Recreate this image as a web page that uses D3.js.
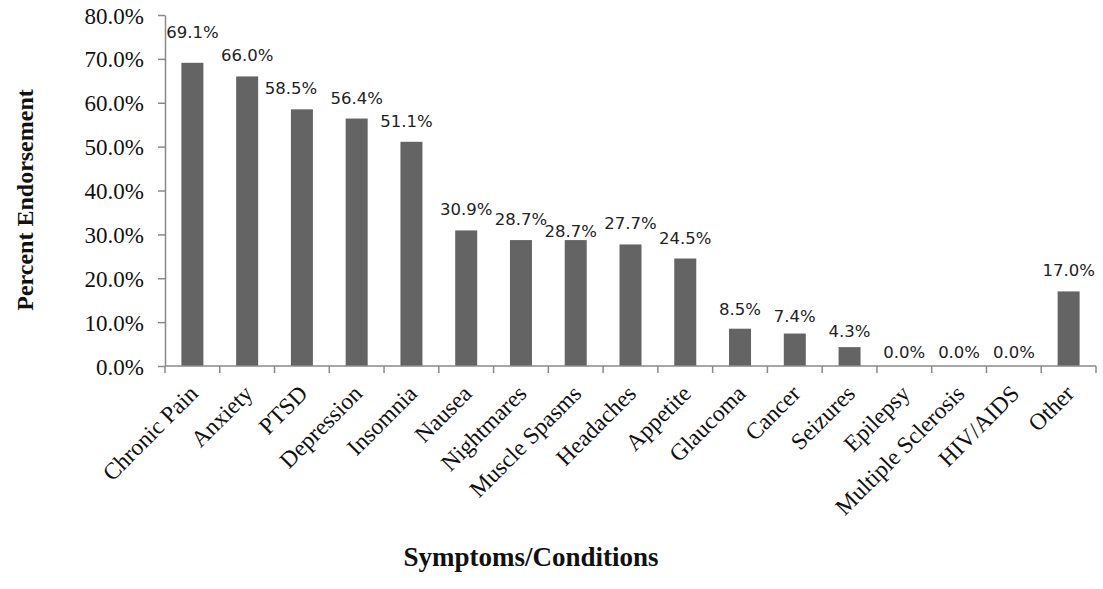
<!DOCTYPE html>
<html><head><meta charset="utf-8">
<script src="https://cdn.jsdelivr.net/npm/d3@7"></script>
<style>
html,body{margin:0;padding:0;background:#fff;}
svg{display:block;}
</style></head>
<body>
<svg id="chart" width="1103" height="589"></svg>
<script>
const categories = ["Chronic Pain","Anxiety","PTSD","Depression","Insomnia","Nausea","Nightmares","Muscle Spasms","Headaches","Appetite","Glaucoma","Cancer","Seizures","Epilepsy","Multiple Sclerosis","HIV/AIDS","Other"];
const values = [69.1,66.0,58.5,56.4,51.1,30.9,28.7,28.7,27.7,24.5,8.5,7.4,4.3,0.0,0.0,0.0,17.0];
const yTicks = [0,10,20,30,40,50,60,70,80];
const yTitle = "Percent Endorsement";
const xTitle = "Symptoms/Conditions";
// label nudges (dx, dy) in px, layout only
const labelNudgeX = [0,0,-11,0,-5,0,0,-5,0,0,0,0,0,0,0,0,0];
const labelNudgeY = [-10,0,0,0,0,0,0,12,0,0,1,3,5,7,7,7,0];

const svg = d3.select("#chart");
const mLeft = 165, mRight = 1096, mTop = 15, mBottom = 366;
const xb = d3.scaleBand().domain(categories).range([mLeft, mRight]);
const y = d3.scaleLinear().domain([0, 80]).range([mBottom, mTop]);
const axisColor = "#8a8a8a";

// bars
svg.append("g").selectAll("rect").data(values).join("rect")
  .attr("x", (d,i) => xb(categories[i]) + xb.bandwidth()/2 - 11)
  .attr("width", 22)
  .attr("y", d => y(d))
  .attr("height", d => y(0) - y(d))
  .attr("fill", "#646464");

// y axis
const yAxis = svg.append("g").attr("transform", `translate(${mLeft},0)`)
  .call(d3.axisLeft(y).tickValues(yTicks).tickSize(7).tickSizeOuter(0).tickFormat(d => d.toFixed(1) + "%"));
yAxis.select(".domain").attr("stroke", axisColor).attr("stroke-width", 1.5);
yAxis.selectAll(".tick line").attr("stroke", axisColor).attr("stroke-width", 1.5);
yAxis.selectAll(".tick text").attr("x", -21).attr("dy", "0.35em")
  .attr("font-family", "'Liberation Serif', serif").attr("font-size", 23).attr("fill", "#111");

// x axis
const xg = svg.append("g").attr("transform", `translate(0,${mBottom})`);
xg.append("line").attr("x1", mLeft).attr("x2", mRight).attr("y1", 0).attr("y2", 0)
  .attr("stroke", axisColor).attr("stroke-width", 1.5);
const bounds = categories.map(c => xb(c)).concat([mRight]);
xg.selectAll("line.tk").data(bounds).join("line").attr("class","tk")
  .attr("x1", d => d).attr("x2", d => d).attr("y1", 0).attr("y2", 7)
  .attr("stroke", axisColor).attr("stroke-width", 1.5);
xg.selectAll("text").data(categories).join("text")
  .attr("transform", d => `translate(${xb(d) + xb.bandwidth()/2 + 7},${29}) rotate(-45)`)
  .attr("text-anchor", "end")
  .attr("font-family", "'Liberation Serif', serif").attr("font-size", 23.5).attr("fill", "#111")
  .text(d => d);

// value labels
svg.append("g").selectAll("text").data(values).join("text")
  .attr("x", (d,i) => xb(categories[i]) + xb.bandwidth()/2 + labelNudgeX[i])
  .attr("y", (d,i) => y(d) - 15 + labelNudgeY[i])
  .attr("text-anchor", "middle")
  .attr("font-family", "'DejaVu Sans', sans-serif").attr("font-size", 16.5).attr("fill", "#222")
  .text(d => d.toFixed(1) + "%");

// titles
svg.append("text").attr("transform", `translate(33,${200}) rotate(-90)`)
  .attr("text-anchor", "middle").attr("font-family", "'Liberation Serif', serif")
  .attr("font-weight", "bold").attr("font-size", 24).attr("fill", "#111").text(yTitle);
svg.append("text").attr("x", 531).attr("y", 566)
  .attr("text-anchor", "middle").attr("font-family", "'Liberation Serif', serif")
  .attr("font-weight", "bold").attr("font-size", 27).attr("fill", "#111").text(xTitle);
</script>
</body></html>
